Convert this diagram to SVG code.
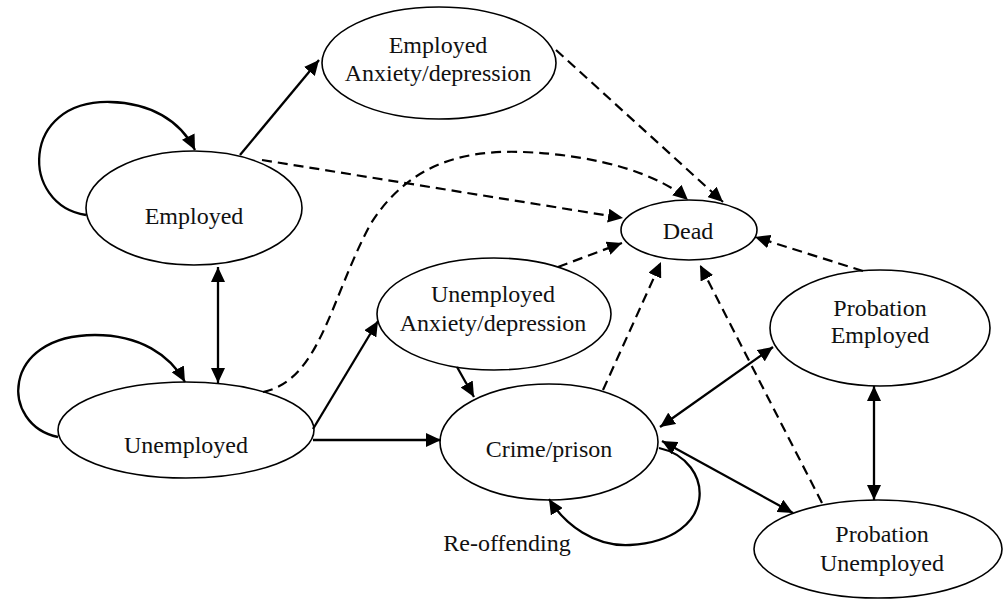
<svg xmlns="http://www.w3.org/2000/svg" width="1004" height="599" viewBox="0 0 1004 599">
<style>
.node ellipse{fill:#fff;stroke:#000;stroke-width:1.6}
.node text,.lbl{font-family:"Liberation Serif","Times New Roman",serif;font-size:24px;fill:#111;text-anchor:middle}
.e{fill:none;stroke:#000;stroke-width:2.3}
.d{fill:none;stroke:#000;stroke-width:2.2;stroke-dasharray:10,6}
.s{marker-end:url(#ah)}
.b{marker-start:url(#ah);marker-end:url(#ah)}
</style>
<defs>
<marker id="ah" markerUnits="userSpaceOnUse" markerWidth="17" markerHeight="14" refX="15" refY="7" orient="auto-start-reverse">
<path d="M0,0 L15,7 L0,14 z" fill="#000"/>
</marker>
</defs>
<rect width="1004" height="599" fill="#fff"/>
<g id="employed" class="node"><ellipse cx="194" cy="208" rx="108" ry="57"/><text x="194" y="224">Employed</text></g>
<g id="employed-anxiety" class="node"><ellipse cx="439" cy="63" rx="117" ry="56"/><text x="438" y="53">Employed</text><text x="438" y="81">Anxiety/depression</text></g>
<g id="unemployed" class="node"><ellipse cx="186" cy="430" rx="128" ry="48"/><text x="186" y="453">Unemployed</text></g>
<g id="unemployed-anxiety" class="node"><ellipse cx="494" cy="314" rx="117" ry="56"/><text x="493" y="302">Unemployed</text><text x="493" y="331">Anxiety/depression</text></g>
<g id="dead" class="node"><ellipse cx="689" cy="230" rx="68" ry="30"/><text x="688" y="239">Dead</text></g>
<g id="crime" class="node"><ellipse cx="549" cy="442" rx="109" ry="58"/><text x="549" y="457">Crime/prison</text></g>
<g id="probation-employed" class="node"><ellipse cx="880" cy="328" rx="110" ry="58"/><text x="880" y="316">Probation</text><text x="880" y="343">Employed</text></g>
<g id="probation-unemployed" class="node"><ellipse cx="878" cy="549" rx="124" ry="49"/><text x="882" y="542">Probation</text><text x="882" y="571">Unemployed</text></g>
<g id="connectors">
<path class="e s" d="M86,215 C20,205 20,100 110,102 C150,103 180,120 195,150"/>
<path class="e s" d="M58,437 C0,425 0,335 95,335 C140,335 170,355 185,382"/>
<path class="e s" d="M659,448 C715,460 720,540 630,545 C595,547 565,525 549,499"/>
<path class="e s" d="M240,155 L319,60"/>
<path class="e b" d="M218,267 L218,383"/>
<path class="e s" d="M313,429 L378,321"/>
<path class="e s" d="M313,440 L441,440"/>
<path class="e s" d="M457,367 L474,397"/>
<path class="e b" d="M660,427 L773,347"/>
<path class="e b" d="M662,441 L793,513"/>
<path class="e b" d="M874,386 L874,500"/>
<path class="d s" d="M262,160 L623,218"/>
<path class="d s" d="M556,50 L723,202"/>
<path class="d s" d="M263,392 C320,380 330,300 370,225 C410,160 470,150 523,152 C600,155 660,175 688,200"/>
<path class="d s" d="M558,267 L622,243"/>
<path class="d s" d="M603,390 L661,262"/>
<path class="d s" d="M822,503 L700,265"/>
<path class="d s" d="M863,271 L755,237"/>
</g>
<text class="lbl" x="507" y="551">Re-offending</text>
</svg>
